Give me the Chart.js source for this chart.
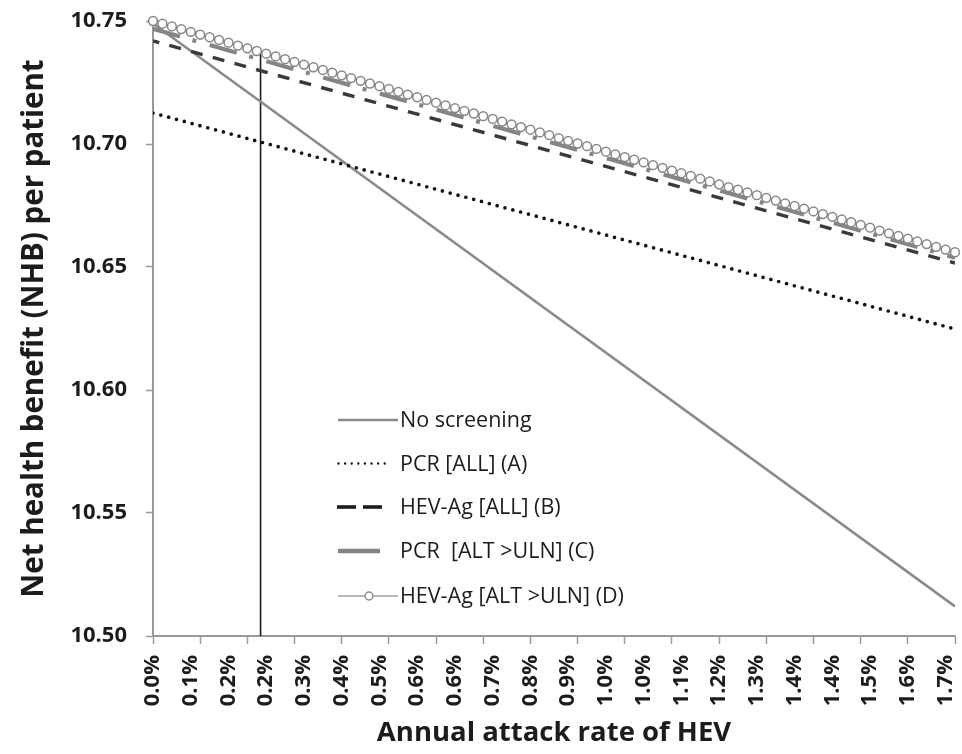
<!DOCTYPE html>
<html>
<head>
<meta charset="utf-8">
<title>Net health benefit vs annual HEV attack rate</title>
<script src="https://cdn.jsdelivr.net/npm/chart.js@4.4.1/dist/chart.umd.min.js"></script>
<style>
  html, body { margin: 0; padding: 0; background: #ffffff; }
  canvas { display: block; }
</style>
</head>
<body>
<canvas id="nhb" width="962" height="754"></canvas>
<script>
// Annual attack rate of HEV (%), sampled every 0.02 %
const attackRate = [
  0.00, 0.02, 0.04, 0.06, 0.08, 0.10, 0.12, 0.14, 0.16, 0.18,
  0.20, 0.22, 0.24, 0.26, 0.28, 0.30, 0.32, 0.34, 0.36, 0.38,
  0.40, 0.42, 0.44, 0.46, 0.48, 0.50, 0.52, 0.54, 0.56, 0.58,
  0.60, 0.62, 0.64, 0.66, 0.68, 0.70, 0.72, 0.74, 0.76, 0.78,
  0.80, 0.82, 0.84, 0.86, 0.88, 0.90, 0.92, 0.94, 0.96, 0.98,
  1.00, 1.02, 1.04, 1.06, 1.08, 1.10, 1.12, 1.14, 1.16, 1.18,
  1.20, 1.22, 1.24, 1.26, 1.28, 1.30, 1.32, 1.34, 1.36, 1.38,
  1.40, 1.42, 1.44, 1.46, 1.48, 1.50, 1.52, 1.54, 1.56, 1.58,
  1.60, 1.62, 1.64, 1.66, 1.68, 1.70
];

// Rates that carry a category label, and rates that carry a tick mark
const labelRates = [
  0.00, 0.08, 0.16, 0.24, 0.32, 0.40, 0.48, 0.56, 0.64, 0.72, 0.80,
  0.88, 0.96, 1.04, 1.12, 1.20, 1.28, 1.36, 1.44, 1.52, 1.60, 1.68
];
const tickMarkRates = [
  0.0, 0.1, 0.2, 0.3, 0.4, 0.5, 0.6, 0.7, 0.8, 0.9,
  1.0, 1.1, 1.2, 1.3, 1.4, 1.5, 1.6, 1.7
];
const nhbTicks = [10.50, 10.55, 10.60, 10.65, 10.70, 10.75];

const seriesNames = [
  'No screening',
  'PCR [ALL] (A)',
  'HEV-Ag [ALL] (B)',
  'PCR  [ALT >ULN] (C)',
  'HEV-Ag [ALT >ULN] (D)'
];

// Straight-line strategies: NHB at the first and last attack rate
const rateEnds = [0.00, 1.70];
const noScreening = [10.749, 10.512];
const pcrAll = [10.7126, 10.6248];
const hevAgAll = [10.7419, 10.6516];
const pcrAltUln = [10.7468, 10.6538];

// HEV-Ag [ALT >ULN] (D), one value per sampled attack rate
const hevAgAltUln = [
  10.7500, 10.7489, 10.7478, 10.7467, 10.7456, 10.7445, 10.7434, 10.7423, 10.7412, 10.7400,
  10.7389, 10.7378, 10.7367, 10.7356, 10.7345, 10.7334, 10.7323, 10.7312, 10.7301, 10.7290,
  10.7279, 10.7268, 10.7257, 10.7246, 10.7235, 10.7224, 10.7212, 10.7201, 10.7190, 10.7179,
  10.7168, 10.7157, 10.7146, 10.7135, 10.7124, 10.7113, 10.7102, 10.7091, 10.7080, 10.7069,
  10.7058, 10.7047, 10.7036, 10.7024, 10.7013, 10.7002, 10.6991, 10.6980, 10.6969, 10.6958,
  10.6947, 10.6936, 10.6925, 10.6914, 10.6903, 10.6892, 10.6881, 10.6870, 10.6859, 10.6848,
  10.6836, 10.6825, 10.6814, 10.6803, 10.6792, 10.6781, 10.6770, 10.6759, 10.6748, 10.6737,
  10.6726, 10.6715, 10.6704, 10.6693, 10.6682, 10.6671, 10.6660, 10.6648, 10.6637, 10.6626,
  10.6615, 10.6604, 10.6593, 10.6582, 10.6571, 10.6560
];

// Vertical marker at the threshold attack rate
const thresholdRate = 0.228;
const thresholdNhb = [10.500, 10.737];

const pairUp = (xs, ys) => xs.map((x, i) => ({ x: x, y: ys[i] }));
const near = (a, b) => Math.abs(a - b) < 1e-6;
const allTickRates = [...new Set([...labelRates, ...tickMarkRates].map(v => +v.toFixed(2)))].sort((a, b) => a - b);

const AXIS_GREY = '#9a9a9a';
const TEXT = '#1c1c1c';

const styles = [
  { color: '#8a8a8a', width: 2.6 },
  { color: '#141414', width: 3.7, dash: [0, 8.1], cap: 'round' },
  { color: '#3a3a3a', width: 3.4, dash: [12, 10.5], dashOffset: 5.5 },
  { color: '#858585', width: 4.2, dash: [28, 13, 4, 14] },
  { color: '#999999', width: 1.2 }
];

const datasets = [
  {
    label: seriesNames[0], data: pairUp(rateEnds, noScreening), order: 4,
    borderColor: styles[0].color, borderWidth: styles[0].width, pointRadius: 0
  },
  {
    label: seriesNames[1], data: pairUp(rateEnds, pcrAll), order: 3,
    borderColor: styles[1].color, borderWidth: styles[1].width, pointRadius: 0,
    borderDash: styles[1].dash, borderCapStyle: styles[1].cap
  },
  {
    label: seriesNames[2], data: pairUp(rateEnds, hevAgAll), order: 2,
    borderColor: styles[2].color, borderWidth: styles[2].width, pointRadius: 0,
    borderDash: styles[2].dash, borderDashOffset: styles[2].dashOffset
  },
  {
    label: seriesNames[3], data: pairUp(rateEnds, pcrAltUln), order: 1,
    borderColor: styles[3].color, borderWidth: styles[3].width, pointRadius: 0,
    borderDash: styles[3].dash
  },
  {
    label: seriesNames[4], data: pairUp(attackRate, hevAgAltUln), order: 0,
    borderColor: styles[4].color, borderWidth: styles[4].width,
    pointRadius: 4.4, pointBorderWidth: 1.5, pointBorderColor: '#878787',
    pointBackgroundColor: '#ffffff', clip: false
  },
  {
    label: 'threshold', data: pairUp([thresholdRate, thresholdRate], thresholdNhb), order: 5,
    borderColor: '#1c1c1c', borderWidth: 1.6, pointRadius: 0
  }
];

// Legend drawn inside the plot, each sample styled like its series
const insideLegend = {
  id: 'insideLegend',
  afterDatasetsDraw(chart) {
    const ctx = chart.ctx;
    const rows = [420, 463.5, 507, 551, 596];
    const textX = 400;
    ctx.save();
    ctx.font = '21.5px "Open Sans"';
    ctx.textBaseline = 'middle';
    ctx.textAlign = 'left';

    const seg = (x1, x2, y, st, dash, cap) => {
      ctx.beginPath();
      ctx.setLineDash(dash || []);
      ctx.lineCap = cap || 'butt';
      ctx.strokeStyle = st.color;
      ctx.lineWidth = st.width;
      ctx.moveTo(x1, y);
      ctx.lineTo(x2, y);
      ctx.stroke();
    };
    seg(338, 398, rows[0], styles[0]);
    seg(338.5, 390, rows[1], { color: styles[1].color, width: 2.4 }, [0, 6.6], 'round');
    seg(337, 356, rows[2], { color: '#1c1c1c', width: 3.6 });
    seg(363, 382, rows[2], { color: '#1c1c1c', width: 3.6 });
    seg(338, 380, rows[3], { color: styles[3].color, width: 4.4 });
    seg(338, 398, rows[4], { color: '#a0a0a0', width: 1.3 });
    ctx.setLineDash([]);
    ctx.beginPath();
    ctx.arc(369, rows[4], 4, 0, Math.PI * 2);
    ctx.fillStyle = '#ffffff';
    ctx.fill();
    ctx.lineWidth = 1.4;
    ctx.strokeStyle = '#8a8a8a';
    ctx.stroke();

    ctx.fillStyle = TEXT;
    seriesNames.forEach((name, i) => ctx.fillText(name, textX, rows[i] + 1));
    ctx.restore();
  }
};

new Chart(document.getElementById('nhb'), {
  type: 'line',
  data: { datasets: datasets },
  options: {
    responsive: false,
    animation: false,
    devicePixelRatio: 1,
    layout: { padding: { top: 21, right: 7, bottom: 0, left: 0 } },
    plugins: { legend: { display: false }, tooltip: { enabled: false } },
    elements: { line: { tension: 0 } },
    scales: {
      x: {
        type: 'linear',
        min: 0,
        max: 1.70,
        afterBuildTicks: (axis) => { axis.ticks = allTickRates.map(v => ({ value: v })); },
        afterFit: (scale) => {
          scale.height = 118;
          scale.paddingLeft = 0;
          scale.paddingRight = 0;
        },
        border: { display: true, color: AXIS_GREY, width: 2 },
        grid: {
          drawOnChartArea: false,
          drawTicks: true,
          tickLength: 8,
          tickWidth: 1.5,
          tickColor: (c) => (c.tick && tickMarkRates.some(t => near(t, c.tick.value))) ? AXIS_GREY : 'rgba(0,0,0,0)'
        },
        ticks: {
          autoSkip: false,
          minRotation: 90,
          maxRotation: 90,
          padding: 11,
          color: TEXT,
          font: { family: '"Open Sans"', size: 22, weight: 'bold' },
          callback: (v) => labelRates.some(l => near(l, v)) ? v.toFixed(1) + '%' : ''
        },
        title: {
          display: true,
          text: 'Annual attack rate of HEV',
          color: TEXT,
          font: { family: '"Open Sans"', size: 27.5, weight: 'bold', lineHeight: 1 },
          padding: { top: 0, bottom: 7 }
        }
      },
      y: {
        type: 'linear',
        min: 10.50,
        max: 10.75,
        afterBuildTicks: (axis) => { axis.ticks = nhbTicks.map(v => ({ value: v })); },
        afterFit: (scale) => {
          scale.width = 153;
          scale.paddingTop = 0;
          scale.paddingBottom = 0;
        },
        border: { display: true, color: AXIS_GREY, width: 2 },
        grid: {
          drawOnChartArea: false,
          drawTicks: true,
          tickLength: 7,
          tickWidth: 1.5,
          tickColor: AXIS_GREY
        },
        ticks: {
          padding: 19,
          color: TEXT,
          font: { family: '"Open Sans"', size: 22, weight: 'bold' },
          callback: (v) => v.toFixed(2)
        },
        title: {
          display: true,
          text: 'Net health benefit (NHB) per patient',
          color: TEXT,
          font: { family: '"Open Sans"', size: 29.5, weight: 'bold', lineHeight: 1 },
          padding: { top: 20, bottom: 0 }
        }
      }
    }
  },
  plugins: [insideLegend]
});
</script>
</body>
</html>
